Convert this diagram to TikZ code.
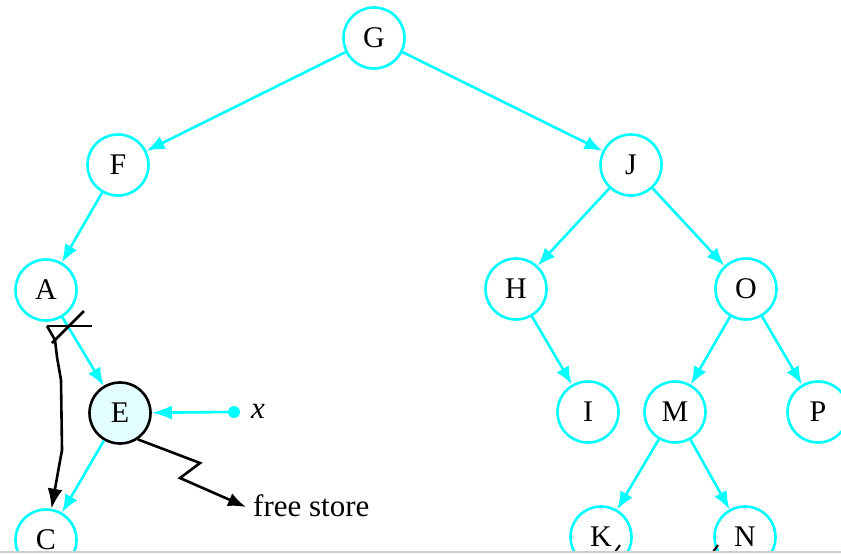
\documentclass[tikz,border=0pt]{standalone}
\usepackage{fontspec}
\setmainfont{Liberation Serif}
\usetikzlibrary{arrows.meta}
\definecolor{cy}{RGB}{0,255,255}
\definecolor{efill}{RGB}{228,255,255}
\begin{document}
\begin{tikzpicture}[x=1pt,y=-1pt,
  tn/.style={circle,draw=cy,line width=2.6pt,minimum size=61pt,inner sep=0pt,font=\fontsize{30}{30}\selectfont},
  ce/.style={draw=cy,line width=2.6pt,-{Latex[length=18pt,width=14pt]}},
  bk/.style={draw=black,line width=2.6pt},
  lbl/.style={inner sep=1pt,font=\fontsize{31}{31}\selectfont}]
\useasboundingbox (0,0) rectangle (841,554);
\begin{scope}
\clip (0,0) rectangle (841,551);
\node[tn] (G) at (374,38) {G};
\node[tn] (F) at (118,165) {F};
\node[tn] (J) at (631,165) {J};
\node[tn] (A) at (46,290) {A};
\node[tn] (H) at (516,289) {H};
\node[tn] (O) at (746,289) {O};
\node[tn,draw=black,fill=efill] (E) at (120,413) {E};
\node[tn] (I) at (588,412) {I};
\node[tn] (M) at (675,412) {M};
\node[tn] (P) at (818,412) {P};
\node[tn] (C) at (46,540) {C};
\node[tn] (K) at (601,537) {K};
\node[tn] (N) at (745,537) {N};
\draw[ce] (G) -- (F);
\draw[ce] (G) -- (J);
\draw[ce] (F) -- (A);
\draw[ce] (J) -- (H);
\draw[ce] (J) -- (O);
\draw[ce] (A) -- (E);
\draw[ce] (E) -- (C);
\draw[ce] (H) -- (I);
\draw[ce] (O) -- (M);
\draw[ce] (O) -- (P);
\draw[ce] (M) -- (K);
\draw[ce] (M) -- (N);
% x pointer
\coordinate (xd) at (234,412);
\fill[cy] (xd) circle (6);
\draw[ce,-{Latex[length=20pt,width=14pt]}] (xd) -- (E);
\node[lbl] (xl) at (258,411) {\textit{x}};
% free store
\coordinate (f1) at (200,463);
\coordinate (f2) at (180,478);
\coordinate (f3) at (246,507);
\node[lbl,anchor=west] (fs) at (252,506) {free store};
\draw[bk,-{Latex[length=18pt,width=14pt]}] (E.-56) -- (f1) -- (f2) -- (f3);
% deleted pointer mark and new pointer A -> C
\coordinate (m1) at (47,326);
\coordinate (m2) at (92,326);
\coordinate (m3) at (84,311);
\coordinate (m4) at (52,343);
\coordinate (b1) at (55,340);
\coordinate (b2) at (57,357);
\coordinate (b3) at (61,380);
\coordinate (b4) at (62,450);
\coordinate (b5) at (58,472);
\draw[bk] (m1) -- (m2);
\draw[bk] (m3) -- (m4);
\draw[bk] (m1) -- (b1);
\draw[bk,-{Latex[length=20pt,width=15pt]}] (b1) -- (b2) -- (b3) -- (b4) -- (b5) -- (C);
% tiny ticks near bottom
\coordinate (t1) at (615,552);
\coordinate (t2) at (620,545);
\coordinate (t3) at (713,552);
\coordinate (t4) at (718,545);
\draw[bk,line width=2pt] (t1) -- (t2);
\draw[bk,line width=2pt] (t3) -- (t4);
\end{scope}
\coordinate (g1) at (0,552);
\coordinate (g2) at (841,552);
\draw[black!20,line width=1.2pt] (g1) -- (g2);
\end{tikzpicture}
\end{document}
